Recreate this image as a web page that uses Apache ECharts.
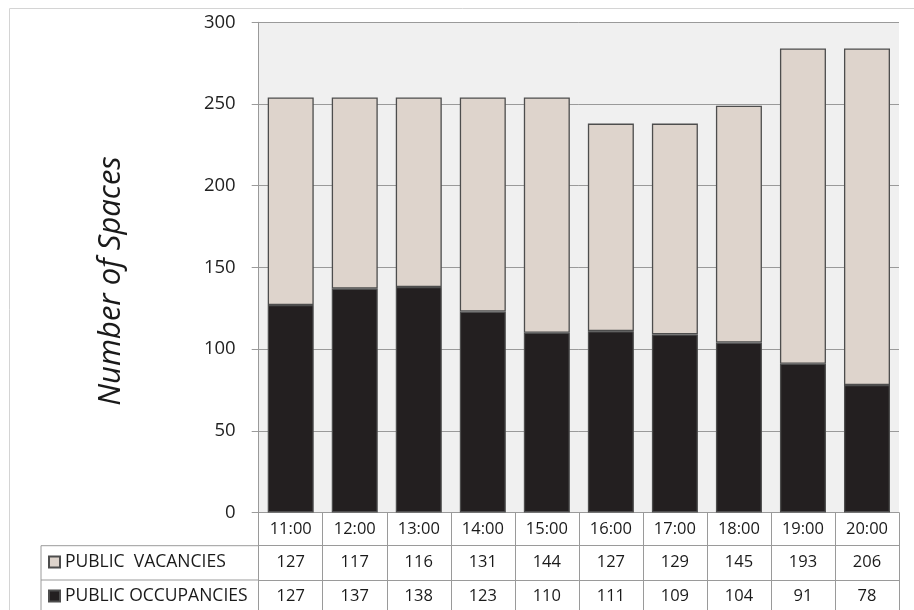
<!DOCTYPE html>
<html><head><meta charset="utf-8">
<script src="https://cdn.jsdelivr.net/npm/echarts@6/dist/echarts.min.js"></script>
<style>html,body{margin:0;padding:0;background:#fff}#c{width:914px;height:610px}</style>
</head><body><div id="c"></div>
<script>
const categories = ['11:00','12:00','13:00','14:00','15:00','16:00','17:00','18:00','19:00','20:00'];
const vacancies = [127,117,116,131,144,127,129,145,193,206];
const occupancies = [127,137,138,123,110,111,109,104,91,78];
const yTicks = {min:0, max:300, interval:50};
const yTitle = 'Number of Spaces';
const nameVac = 'PUBLIC  VACANCIES';
const nameOcc = 'PUBLIC OCCUPANCIES';

const FONT = 'Open Sans';
const GL = 258.7, GR = 899, GT = 22.3, G0 = 512.5, R1 = 545.7, R2 = 580;
const lineCol = '#9a9a9a';
const txt = '#1a1a1a';
const chart = echarts.init(document.getElementById('c'));
const legendBase = {orient:'vertical', left:48, itemWidth:11, itemHeight:11, icon:'rect',
  textStyle:{fontFamily:FONT, fontSize:17.5, color:txt}, selectedMode:false, padding:0};
chart.setOption({
  animation:false,
  textStyle:{fontFamily:FONT},
  grid:[
    {left:GL, top:GT, width:GR-GL, height:G0-GT, show:true, backgroundColor:'#f0f0f0', borderWidth:0},
    {left:GL, top:G0, width:GR-GL, height:R1-G0, show:false},
    {left:GL, top:R1, width:GR-GL, height:R2-R1, show:false}
  ],
  legend:[
    Object.assign({}, legendBase, {data:[nameVac], top:553}),
    Object.assign({}, legendBase, {data:[nameOcc], top:587})
  ],
  xAxis:[
    {type:'category', gridIndex:0, data:categories,
     axisLine:{lineStyle:{color:lineCol, width:1}},
     axisTick:{show:true, interval:0, length:101, lineStyle:{color:lineCol}},
     axisLabel:{interval:0, margin:8, fontSize:16.5, color:txt, fontFamily:FONT}},
    {type:'category', gridIndex:1, data:vacancies.map(String),
     axisLine:{lineStyle:{color:lineCol}}, axisTick:{show:false},
     axisLabel:{interval:0, margin:8, fontSize:16.5, color:txt, fontFamily:FONT}},
    {type:'category', gridIndex:2, data:occupancies.map(String),
     axisLine:{lineStyle:{color:lineCol}}, axisTick:{show:false},
     axisLabel:{interval:0, margin:8, fontSize:16.5, color:txt, fontFamily:FONT}}
  ],
  yAxis:[
    {type:'value', gridIndex:0, min:yTicks.min, max:yTicks.max, interval:yTicks.interval,
     axisLine:{show:true, lineStyle:{color:lineCol}},
     axisTick:{show:true, length:7, lineStyle:{color:lineCol}},
     axisLabel:{margin:23, fontSize:18.5, color:'#222', fontFamily:FONT},
     splitLine:{lineStyle:{color:lineCol}}},
    {type:'value', gridIndex:1, show:false},
    {type:'value', gridIndex:2, show:false}
  ],
  series:[
    {name:nameOcc, type:'bar', stack:'s', data:occupancies, barWidth:46,
     itemStyle:{color:'#231f20', borderColor:'#4d4d4d', borderWidth:1.3}},
    {name:nameVac, type:'bar', stack:'s', data:vacancies, barWidth:46,
     itemStyle:{color:'#ded4cc', borderColor:'#4d4d4d', borderWidth:1.3}}
  ],
  graphic:[
    {type:'rect', shape:{x:9.5, y:8.5, width:1200, height:1200}, style:{fill:null, stroke:'#d4d4d4', lineWidth:1}, silent:true, z:-10},
    {type:'text', x:111, y:281, rotation:Math.PI/2,
     style:{text:yTitle, font:'italic 31px "Open Sans"', fill:txt, align:'center', verticalAlign:'middle'}},
    {type:'line', shape:{x1:41, y1:R1, x2:GL, y2:R1}, style:{stroke:lineCol, lineWidth:1}},
    {type:'line', shape:{x1:41, y1:R2, x2:GL, y2:R2}, style:{stroke:lineCol, lineWidth:1}},
    {type:'line', shape:{x1:41, y1:R1, x2:41, y2:620}, style:{stroke:lineCol, lineWidth:1}}
  ]
});
</script></body></html>
